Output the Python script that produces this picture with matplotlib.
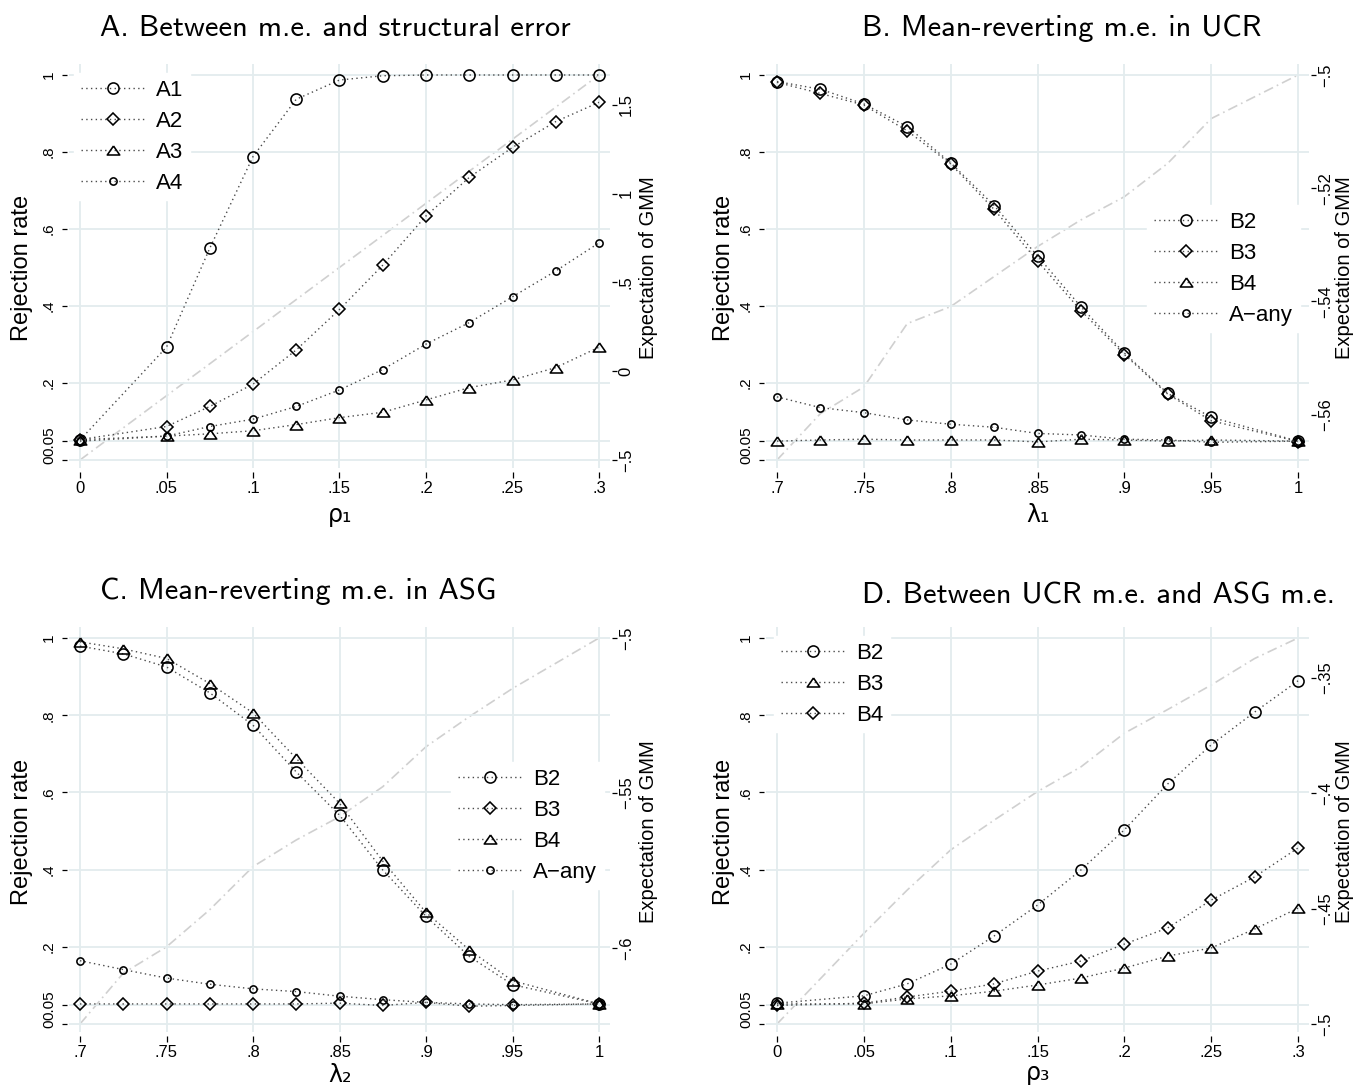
import matplotlib
matplotlib.use("Agg")
import matplotlib.pyplot as plt

W, H = 1356, 1087

# ---------------- data ----------------
xA = [0, .05, .075, .1, .125, .15, .175, .2, .225, .25, .275, .3]
A1 = [0.052, 0.293, 0.55, 0.788, 0.937, 0.987, 0.998, 1.0, 1.0, 1.0, 1.0, 1.0]
A2 = [0.053, 0.087, 0.139, 0.197, 0.286, 0.391, 0.506, 0.634, 0.734, 0.812, 0.879, 0.929]
A3 = [0.053, 0.062, 0.068, 0.076, 0.092, 0.11, 0.124, 0.156, 0.188, 0.208, 0.24, 0.293]
A4 = [0.049, 0.062, 0.087, 0.106, 0.139, 0.182, 0.235, 0.301, 0.357, 0.424, 0.491, 0.564]
gmmA = [-0.5, -0.138, 0.042, 0.223, 0.404, 0.585, 0.765, 0.946, 1.127, 1.307, 1.488, 1.669]

xB = [.7, .725, .75, .775, .8, .825, .85, .875, .9, .925, .95, 1.0]
B2_B = [0.983, 0.963, 0.925, 0.866, 0.772, 0.661, 0.530, 0.398, 0.278, 0.173, 0.111, 0.049]
B3_B = [0.981, 0.952, 0.922, 0.855, 0.769, 0.651, 0.517, 0.388, 0.274, 0.171, 0.102, 0.048]
B4_B = [0.049, 0.052, 0.054, 0.052, 0.052, 0.052, 0.047, 0.054, 0.052, 0.049, 0.052, 0.049]
Aany_B = [0.164, 0.136, 0.123, 0.104, 0.093, 0.085, 0.069, 0.065, 0.054, 0.052, 0.046, 0.049]
gmmB = [-0.568, -0.5598, -0.5551, -0.5439, -0.5409, -0.5356, -0.5303, -0.5256, -0.5215,
        -0.5156, -0.5077, -0.5]

xC = [.7, .725, .75, .775, .8, .825, .85, .875, .9, .925, .95, 1.0]
B2_C = [0.979, 0.959, 0.925, 0.858, 0.774, 0.653, 0.541, 0.399, 0.279, 0.175, 0.102, 0.052]
B3_C = [0.052, 0.052, 0.052, 0.052, 0.052, 0.052, 0.054, 0.048, 0.056, 0.046, 0.048, 0.052]
B4_C = [0.99, 0.972, 0.947, 0.882, 0.806, 0.688, 0.572, 0.422, 0.289, 0.192, 0.112, 0.052]
Aany_C = [0.164, 0.141, 0.119, 0.103, 0.091, 0.084, 0.072, 0.063, 0.056, 0.052, 0.05, 0.052]
gmmC = [-0.6246, -0.6082, -0.5997, -0.5877, -0.5738, -0.5652, -0.5577, -0.548, -0.5351,
        -0.5254, -0.5163, -0.5]

xD = [0, .05, .075, .1, .125, .15, .175, .2, .225, .25, .275, .3]
B2_D = [0.054, 0.073, 0.104, 0.155, 0.228, 0.308, 0.399, 0.503, 0.622, 0.723, 0.808, 0.889]
B3_D = [0.052, 0.052, 0.065, 0.073, 0.085, 0.101, 0.119, 0.145, 0.176, 0.197, 0.246, 0.3]
B4_D = [0.048, 0.054, 0.07, 0.085, 0.104, 0.137, 0.163, 0.207, 0.249, 0.321, 0.381, 0.456]
gmmD = [-0.5, -0.4607, -0.4419, -0.4245, -0.4116, -0.3992, -0.3885, -0.3739, -0.3636,
        -0.353, -0.3415, -0.3326]

yticks = [0, 0.05, 0.2, 0.4, 0.6, 0.8, 1.0]
ytick_labels = ["0", "0.05", ".2", ".4", ".6", ".8", "1"]
xticks_rho = [0, .05, .1, .15, .2, .25, .3]
xtick_labels_rho = ["0", ".05", ".1", ".15", ".2", ".25", ".3"]
xticks_lam = [.7, .75, .8, .85, .9, .95, 1.0]
xtick_labels_lam = [".7", ".75", ".8", ".85", ".9", ".95", "1"]
rticks_A = [-0.5, 0, 0.5, 1, 1.5]
rlabels_A = ["\u2212.5", "0", ".5", "1", "1.5"]
rticks_B = [-0.56, -0.54, -0.52, -0.5]
rlabels_B = ["\u2212.56", "\u2212.54", "\u2212.52", "\u2212.5"]
rticks_C = [-0.6, -0.55, -0.5]
rlabels_C = ["\u2212.6", "\u2212.55", "\u2212.5"]
rticks_D = [-0.5, -0.45, -0.4, -0.35]
rlabels_D = ["\u2212.5", "\u2212.45", "\u2212.4", "\u2212.35"]

titles = ["A. Between m.e. and structural error", "B. Mean-reverting m.e. in UCR",
          "C. Mean-reverting m.e. in ASG", "D. Between UCR m.e. and ASG m.e."]
xlabels = ["\u03c1\u2081", "\u03bb\u2081", "\u03bb\u2082", "\u03c1\u2083"]

# ---------------- style ----------------
SANS = ["Liberation Sans", "DejaVu Sans"]
TITLEF = ["cmss10", "DejaVu Sans"]
plt.rcParams["font.family"] = SANS
plt.rcParams["axes.unicode_minus"] = True

GRID = "#e3ecee"
LINE_C = "#4a4a4a"
DOT = (0, (1.0, 2.4))
TRI = [(0, 0.72), (-1, -0.72), (1, -0.72), (0, 0.72)]

styles = {
    "big_o": dict(marker="o", ms=8.0),
    "small_o": dict(marker="o", ms=5.2),
    "diamond": dict(marker="D", ms=6.4),
    "tri": dict(marker=TRI, ms=9.0),
}

fig = plt.figure(figsize=(W / 100, H / 100), dpi=100)
fig.patch.set_facecolor("white")


def px2fig(x, y):
    return x / W, 1 - y / H


def make_panel(px_x0, px_x1, px_y0, px_y1, xv0, xv1):
    padL, padR, padT, padB = 11, 11, 11, 8
    left, right = px_x0 - padL, px_x1 + padR
    top, bottom = px_y1 - padT, px_y0 + padB
    ax = fig.add_axes([left / W, 1 - bottom / H, (right - left) / W, (bottom - top) / H])
    sx = (xv1 - xv0) / (px_x1 - px_x0)
    ax.set_xlim(xv0 - padL * sx, xv1 + padR * sx)
    sy = 1.0 / (px_y0 - px_y1)
    ax.set_ylim(-padB * sy, 1 + padT * sy)
    return ax


def style_axes(ax, ax2, xt, xtl, rt, rtl, gmm):
    for s in ax.spines.values():
        s.set_visible(False)
    for s in ax2.spines.values():
        s.set_visible(False)
    ax.spines["left"].set_position(("outward", 1.5))
    ax.spines["bottom"].set_position(("outward", 3.0))
    ax2.spines["right"].set_position(("outward", 1.5))
    ax.set_yticks(yticks)
    ax.set_yticklabels(ytick_labels)
    ax.set_xticks(xt)
    ax.set_xticklabels(xtl)
    ax.tick_params(axis="y", direction="out", length=3.8, width=0.9, pad=4.0,
                   labelsize=11, labelrotation=90, color="black")
    ax.tick_params(axis="x", direction="out", length=4.3, width=0.9, pad=2,
                   labelsize=12, color="black")
    for lbl in ax.get_yticklabels():
        lbl.set_va("center")
    ax.grid(True, color=GRID, lw=1.3)
    ax.set_axisbelow(True)
    # right axis range = data range of GMM series
    rmin, rmax = min(gmm), max(gmm)
    lo, hi = ax.get_ylim()
    ax2.set_ylim(rmin + lo * (rmax - rmin), rmin + hi * (rmax - rmin))
    ax2.set_yticks(rt)
    ax2.set_yticklabels(rtl)
    ax2.tick_params(axis="y", direction="out", length=3.8, width=0.9, pad=1.0,
                    labelsize=12, labelrotation=90, color="black")
    for lbl in ax2.get_yticklabels():
        lbl.set_va("center")
    ax.set_zorder(2)
    ax2.set_zorder(1)
    ax.patch.set_visible(False)


def series(ax, x, y, kind, label):
    st = styles[kind]
    ax.plot(x, y, linestyle=DOT, lw=1.0, color=LINE_C, marker=st["marker"], ms=st["ms"],
            mfc="none", mec="black", mew=1.15, label=label, zorder=3)


def gmm_line(ax2, x, g):
    ax2.plot(x, g, color="#d0d0d0", lw=1.2, linestyle=(0, (6, 2.5, 1, 2.5)), zorder=1)


def legend(ax, px_left, px_top):
    lg = ax.legend(loc="upper left", bbox_to_anchor=px2fig(px_left, px_top),
                   bbox_transform=fig.transFigure, borderaxespad=0, borderpad=0.3,
                   frameon=True, fancybox=False, facecolor="white", edgecolor="white",
                   framealpha=1, handlelength=2.95, handletextpad=0.45, labelspacing=0.45,
                   numpoints=1, prop={"family": SANS, "size": 16})
    lg.set_zorder(10)
    return lg


# ---------- Panel A ----------
ax = make_panel(80, 599, 460, 75, 0, 0.3)
ax2 = ax.twinx()
gmm_line(ax2, xA, gmmA)
series(ax, xA, A1, "big_o", "A1")
series(ax, xA, A2, "diamond", "A2")
series(ax, xA, A3, "tri", "A3")
series(ax, xA, A4, "small_o", "A4")
style_axes(ax, ax2, xticks_rho, xtick_labels_rho, rticks_A, rlabels_A, gmmA)
legend(ax, 74, 73)

# ---------- Panel B ----------
ax = make_panel(777, 1298, 460, 75, 0.7, 1.0)
ax2 = ax.twinx()
gmm_line(ax2, xB, gmmB)
series(ax, xB, B2_B, "big_o", "B2")
series(ax, xB, B3_B, "diamond", "B3")
series(ax, xB, B4_B, "tri", "B4")
series(ax, xB, Aany_B, "small_o", "A\u2212any")
style_axes(ax, ax2, xticks_lam, xtick_labels_lam, rticks_B, rlabels_B, gmmB)
legend(ax, 1147, 205)

# ---------- Panel C ----------
ax = make_panel(80, 599, 1024, 638, 0.7, 1.0)
ax2 = ax.twinx()
gmm_line(ax2, xC, gmmC)
series(ax, xC, B2_C, "big_o", "B2")
series(ax, xC, B3_C, "diamond", "B3")
series(ax, xC, B4_C, "tri", "B4")
series(ax, xC, Aany_C, "small_o", "A\u2212any")
style_axes(ax, ax2, xticks_lam, xtick_labels_lam, rticks_C, rlabels_C, gmmC)
legend(ax, 451, 762)

# ---------- Panel D ----------
ax = make_panel(777, 1298, 1024, 638, 0, 0.3)
ax2 = ax.twinx()
gmm_line(ax2, xD, gmmD)
series(ax, xD, B2_D, "big_o", "B2")
series(ax, xD, B3_D, "tri", "B3")
series(ax, xD, B4_D, "diamond", "B4")
style_axes(ax, ax2, xticks_rho, xtick_labels_rho, rticks_D, rlabels_D, gmmD)
legend(ax, 774, 636)

# ---------- texts ----------
for (tx, ty), t in zip([(100, 28), (862, 28), (100, 591), (862, 596)], titles):
    fig.text(*px2fig(tx, ty), t, ha="left", va="center", fontsize=22, family=TITLEF)

for (lx, ly) in [(22, 268), (724, 268), (22, 832), (724, 832)]:
    fig.text(*px2fig(lx, ly), "Rejection rate", rotation=90, ha="center", va="center",
             fontsize=17, family=SANS)
for (lx, ly) in [(648, 268), (1344, 268), (648, 832), (1344, 832)]:
    fig.text(*px2fig(lx, ly), "Expectation of GMM", rotation=90, ha="center", va="center",
             fontsize=14.5, family=SANS)
for (lx, ly), t in zip([(340, 515), (1038, 515), (340, 1075), (1038, 1073)], xlabels):
    fig.text(*px2fig(lx, ly), t, ha="center", va="center", fontsize=17,
             family=["DejaVu Sans"])

fig.savefig("out.png", dpi=100, facecolor="white")
